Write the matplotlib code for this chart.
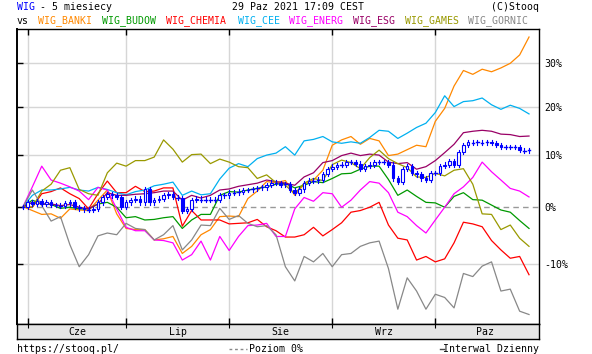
import numpy as np
import matplotlib.pyplot as plt
from matplotlib.lines import Line2D

# ---- data (percent change vs. start, WIG daily, sector indices every 2nd session) ----
months = ['Cze', 'Lip', 'Sie', 'Wrz', 'Paz']
month_starts = [1, 22, 44, 66, 88]
n_days = 109

wig_close = [0.0, 0.8, 0.5, 1.0, 0.5, 0.8, 0.3, 0.3, 0.2, 0.6,
             0.9, 0.0, -0.3, -0.5, -0.6, -0.4, 0.8, 1.8, 2.4, 2.1,
             1.8, -0.1, 0.8, 1.2, 1.5, 0.8, 3.2, 0.8, 1.2, 1.5,
             2.1, 2.4, 1.8, 1.6, -0.7, -0.4, 1.2, 1.5, 1.3, 1.3,
             1.2, 1.3, 2.1, 2.1, 2.6, 2.6, 2.8, 3.1, 3.1, 3.3,
             3.5, 3.6, 4.0, 4.5, 4.4, 4.0, 4.2, 3.1, 2.6, 3.2,
             4.4, 4.9, 4.9, 5.1, 6.2, 7.1, 7.6, 7.9, 8.0, 8.5,
             8.5, 8.2, 7.1, 7.7, 8.0, 8.5, 8.5, 8.5, 8.0, 5.3,
             4.7, 7.1, 7.7, 6.4, 6.1, 5.3, 5.0, 6.3, 6.3, 7.7,
             8.0, 8.7, 8.0, 10.5, 11.9, 12.6, 12.4, 12.6, 12.4, 12.6,
             12.3, 11.9, 11.6, 11.6, 11.6, 11.6, 10.9, 10.7, 10.9]

banki = [0, -0.7, -1.4, -1.3, -2.1, -0.4, -0.6, -0.7, 1.2,
         3.1, -1.3, -3.9, -4.1, -4.1, -5.9, -5.7, -5.3, -8.2,
         -7.0, -5.0, -4.1, -1.8, -1.7, -1.8, 1.5, 2.9, 4.7,
         4.5, 4.9, 2.1, 4.2, 5.0, 6.9, 11.9, 13.0, 13.7,
         12.1, 13.3, 12.8, 9.8, 10.1, 11.0, 11.9, 11.6, 16.9,
         19.7, 24.7, 28.3, 27.4, 28.6, 28.0, 28.9, 30.0, 32.0, 36.4]
budow = [0, 1.2, 0.5, 0.4, -0.3, -0.1, -0.4, -0.4, 0.5,
         0.8, -0.1, -2.0, -1.8, -2.4, -2.3, -2.0, -1.8, -3.9,
         -2.4, -1.4, -1.4, 2.1, 2.8, 2.7, 3.1, 3.4, 3.7,
         4.2, 4.4, 3.5, 4.0, 4.7, 4.5, 5.3, 6.2, 6.3,
         7.1, 7.7, 7.7, 5.1, 2.1, 3.1, 1.9, 0.8, 0.7,
         -0.1, 1.9, 2.6, 1.3, 1.2, 0.3, -0.6, -1.0, -2.5, -3.9]
chemia = [0, -0.1, 2.4, 2.8, 3.5, 2.4, 1.5, -0.4, 2.4,
          4.8, 2.6, 2.6, 3.8, 2.8, 2.9, 3.5, 3.5, -3.5,
          -0.7, -2.4, -2.4, -2.4, -3.1, -3.0, -2.9, -2.3, -3.6,
          -4.3, -5.4, -5.4, -5.0, -3.7, -5.2, -4.1, -2.9, -1.0,
          -0.7, -0.1, 0.8, -3.3, -5.6, -5.9, -9.3, -8.7, -9.6,
          -9.1, -6.4, -2.8, -3.1, -3.6, -6.0, -7.6, -9.0, -8.7, -11.7]
cee = [0, 2.1, 3.1, 3.1, 3.3, 3.6, 3.1, 2.9, 3.6,
       3.2, 2.6, 2.2, 2.8, 3.1, 3.9, 4.2, 4.6, 2.1,
       2.9, 2.2, 2.4, 5.2, 7.3, 8.2, 7.6, 9.2, 9.9,
       10.3, 11.6, 9.9, 12.8, 13.1, 13.7, 12.6, 12.3, 12.6,
       12.3, 13.5, 15.0, 14.8, 13.3, 14.4, 15.6, 16.5, 18.8,
       22.5, 20.1, 21.2, 21.4, 22.0, 20.5, 19.5, 20.4, 19.7, 18.5]
energ = [0, 3.7, 7.7, 5.0, 4.4, 3.7, 2.9, 1.3, 3.6,
         3.1, -0.4, -3.7, -4.3, -4.3, -5.9, -6.0, -6.4, -9.3,
         -8.4, -6.1, -9.3, -5.3, -7.7, -5.3, -3.4, -3.3, -3.0,
         -5.3, -5.3, -0.4, 1.7, 1.0, 2.6, 2.4, -0.1, 1.2,
         3.1, 4.7, 4.4, 2.6, -1.0, -1.8, -3.4, -4.7, -2.4,
         -0.1, 2.4, 3.7, 5.5, 8.5, 6.6, 5.0, 3.4, 2.9, 1.8]
esg = [0, 0.8, 0.5, 0.5, 0.2, 0.4, -0.1, -0.4, 0.5,
       2.6, 2.1, 2.1, 2.3, 2.4, 2.6, 2.9, 2.9, 1.2,
       2.1, 1.6, 2.1, 3.1, 3.3, 3.8, 4.1, 4.4, 5.0,
       4.7, 4.4, 4.0, 5.6, 6.4, 8.4, 8.8, 9.8, 10.3,
       9.8, 10.1, 9.9, 8.5, 8.2, 8.4, 7.1, 7.6, 8.8,
       10.4, 12.1, 14.5, 14.8, 15.0, 14.8, 14.2, 14.1, 13.7, 13.8]
games = [0, -0.1, 2.9, 4.2, 6.9, 7.4, 3.2, 2.4, 2.1,
         6.4, 8.3, 7.7, 8.8, 8.8, 9.5, 13.0, 11.1, 8.5,
         10.0, 10.1, 8.2, 9.1, 8.5, 7.6, 7.4, 5.3, 6.0,
         4.5, 4.0, 2.4, 4.4, 5.3, 4.9, 8.0, 8.9, 8.4,
         7.2, 9.4, 10.9, 9.2, 8.2, 7.4, 5.6, 5.5, 6.3,
         5.8, 6.9, 7.2, 4.2, -1.3, -1.4, -4.1, -3.3, -5.6, -7.0]
gornic = [0, 3.1, 0.2, -2.6, -1.8, -6.7, -10.4, -8.4, -5.2,
          -4.7, -5.0, -3.0, -3.9, -4.1, -5.9, -5.0, -3.4, -7.6,
          -5.9, -3.3, -3.4, -0.3, -2.3, -1.6, -3.0, -3.6, -3.4,
          -5.0, -10.4, -12.7, -8.7, -9.6, -8.2, -10.4, -8.4, -8.2,
          -7.0, -6.4, -6.1, -10.7, -17.1, -12.2, -14.3, -17.1, -14.8,
          -15.3, -16.9, -11.5, -12.0, -10.3, -9.6, -14.3, -14.0, -17.4, -17.9]

series_names = ['WIG_BANKI', 'WIG_BUDOW', 'WIG_CHEMIA', 'WIG_CEE',
                'WIG_ENERG', 'WIG_ESG', 'WIG_GAMES', 'WIG_GORNIC']
series_vals = [banki, budow, chemia, cee, energ, esg, games, gornic]
series_colors = ['#ff8800', '#009900', '#ff0000', '#00b0f0',
                 '#ff00ff', '#990066', '#999900', '#888888']

y_ticks = [-10, 0, 10, 20, 30]

W, H = 592, 354


def ly(p):
    # chart is on a log scale of (1 + change)
    return np.log1p(np.asarray(p, dtype=float) / 100.0)


def fx(px):
    return px / W


def fy(py):
    return 1 - py / H


fig = plt.figure(figsize=(W / 100, H / 100), dpi=100)
plt.rcParams['font.family'] = 'DejaVu Sans Mono'
fs = 7.1

L, R, T, B = 17.3, 539, 29, 324
ax = fig.add_axes([fx(L), fy(B), (R - L) / W, (B - T) / H])
ax.set_xlim(-1.216, 110.13)
ax.set_ylim(-0.2146, 0.3251)

# grid
for v in y_ticks:
    if v != 0:
        ax.axhline(ly(v), color='#d6d6d6', lw=1.0, zorder=0)
for m in month_starts:
    ax.axvline(m, color='#d6d6d6', lw=1.0, zorder=0)
ax.axhline(0, color='#999999', lw=1.0, ls=(0, (4, 3)), zorder=1)

# sector lines
x_sec = np.arange(0, n_days, 2)
for vals, col in zip(series_vals, series_colors):
    ax.plot(x_sec, ly(vals), color=col, lw=0.9, zorder=2)

# WIG candles (open taken as previous close)
close = ly(wig_close)
opens = np.concatenate([[0.0], close[:-1]])
bw = 0.55
for i, (o, c) in enumerate(zip(opens, close)):
    lo, hi = min(o, c), max(o, c)
    ax.plot([i, i], [lo - 0.004, hi + 0.004], color='#0000ff', lw=0.8, zorder=3)
    if hi - lo < 0.002:
        ax.plot([i - bw / 2, i + bw / 2], [c, c], color='#0000ff', lw=1.0, zorder=4)
    else:
        ax.add_patch(plt.Rectangle((i - bw / 2, lo), bw, hi - lo,
                                   facecolor='white' if c > o else '#0000ff',
                                   edgecolor='#0000ff', lw=0.8, zorder=4))

# axes styling
for s in ax.spines.values():
    s.set_color('black')
    s.set_linewidth(1.0)
ax.spines['left'].set_linewidth(1.4)
ax.set_yticks(ly(y_ticks))
ax.set_yticklabels([f'{v}%' for v in y_ticks], fontsize=fs)
ax.tick_params(axis='y', left=True, right=False, labelleft=False, labelright=True,
               direction='in', length=4, width=1, pad=4)
ax.set_xticks(month_starts)
ax.set_xticklabels([])
ax.tick_params(axis='x', top=True, bottom=True, direction='in', length=4, width=1)

# month strip
sax = fig.add_axes([fx(L), fy(338.5), (R - L) / W, 14.5 / H])
sax.set_facecolor('#e6e6e6')
sax.set_xlim(ax.get_xlim())
sax.set_ylim(0, 1)
sax.set_yticks([])
sax.set_xticks(month_starts)
sax.set_xticklabels([])
sax.tick_params(axis='x', bottom=False, top=True, direction='in', length=3)
for s in sax.spines.values():
    s.set_linewidth(1.0)
bounds = month_starts + [n_days]
for k, name in enumerate(months):
    sax.text((bounds[k] + bounds[k + 1]) / 2, 0.45, name, ha='center', va='center', fontsize=fs)

# header
fig.text(fx(17), fy(7.5), 'WIG', color='#0000ff', fontsize=fs, va='center')
fig.text(fx(40.5), fy(7.5), '- 5 miesiecy', color='black', fontsize=fs, va='center')
fig.text(fx(232), fy(7.5), '29 Paz 2021 17:09 CEST', color='black', fontsize=fs, va='center')
fig.text(fx(539), fy(7.5), '(C)Stooq', color='black', fontsize=fs, va='center', ha='right')
fig.text(fx(17), fy(21), 'vs', color='black', fontsize=fs, va='center')
name_x = [38, 102, 166, 238, 289, 353, 405, 468]
for name, col, px in zip(series_names, series_colors, name_x):
    fig.text(fx(px), fy(21), name, color=col, fontsize=fs, va='center')

# footer
fig.text(fx(17), fy(349), 'https://stooq.pl/', color='black', fontsize=fs, va='center')
fig.add_artist(Line2D([fx(229), fx(247)], [fy(349), fy(349)], color='#888888',
                      lw=1.0, ls=(0, (2, 2))))
fig.text(fx(249), fy(349), 'Poziom 0%', color='black', fontsize=fs, va='center')
fig.add_artist(Line2D([fx(440), fx(444)], [fy(349), fy(349)], color='#444444', lw=1.0))
fig.text(fx(539), fy(349), 'Interwal Dzienny', color='black', fontsize=fs, va='center', ha='right')

fig.savefig('out.png', dpi=100, facecolor='white')
